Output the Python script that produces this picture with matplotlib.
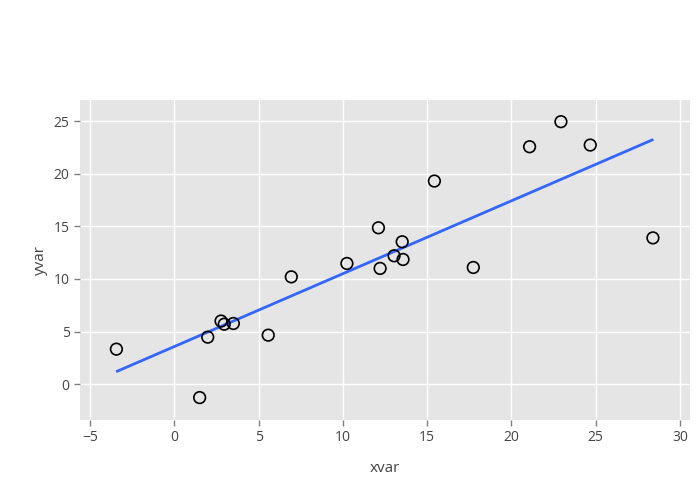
import matplotlib
matplotlib.use('Agg')
import matplotlib.pyplot as plt

# Data
xvar = [-3.44, 1.50, 1.98, 2.77, 2.96, 3.50, 5.57, 6.94, 10.24, 12.11,
        12.21, 13.04, 13.52, 13.57, 15.43, 17.74, 21.08, 22.94, 24.68, 28.40]
yvar = [3.33, -1.27, 4.47, 6.00, 5.70, 5.77, 4.66, 10.20, 11.47, 14.86,
        11.00, 12.20, 13.53, 11.85, 19.30, 11.09, 22.56, 24.94, 22.72, 13.90]

# Fitted line endpoints
fit_x = [-3.38, 28.35]
fit_y = [1.24, 23.20]

xticks = [-5, 0, 5, 10, 15, 20, 25, 30]
yticks = [0, 5, 10, 15, 20, 25]

plt.rcParams['font.family'] = ['Open Sans', 'DejaVu Sans']

fig = plt.figure(figsize=(7, 5), dpi=100)
ax = fig.add_axes([80 / 700, 80 / 500, 610 / 700, 320 / 500])
ax.set_facecolor('#e5e5e5')

ax.scatter(xvar, yvar, s=70, facecolors='none', edgecolors='black',
           linewidths=1.2, zorder=3)
ax.plot(fit_x, fit_y, color='#3366ff', linewidth=2, zorder=2)

ax.set_xlim(-5.6, 30.6)
ax.set_ylim(-3.4, 27.0)
ax.set_xticks(xticks)
ax.set_yticks(yticks)
ax.set_xticklabels([str(t).replace('-', '\u2212') for t in xticks])
ax.grid(True, color='white', linewidth=1)
ax.set_axisbelow(True)
for s in ax.spines.values():
    s.set_visible(False)
ax.tick_params(colors='#7f7f7f', labelcolor='#444444', labelsize=10,
               length=4, width=1)

ax.set_xlabel('xvar', color='#444444', fontsize=11, labelpad=11)
ax.set_ylabel('yvar', color='#444444', fontsize=11, labelpad=4)

fig.savefig('out.png', dpi=100)
